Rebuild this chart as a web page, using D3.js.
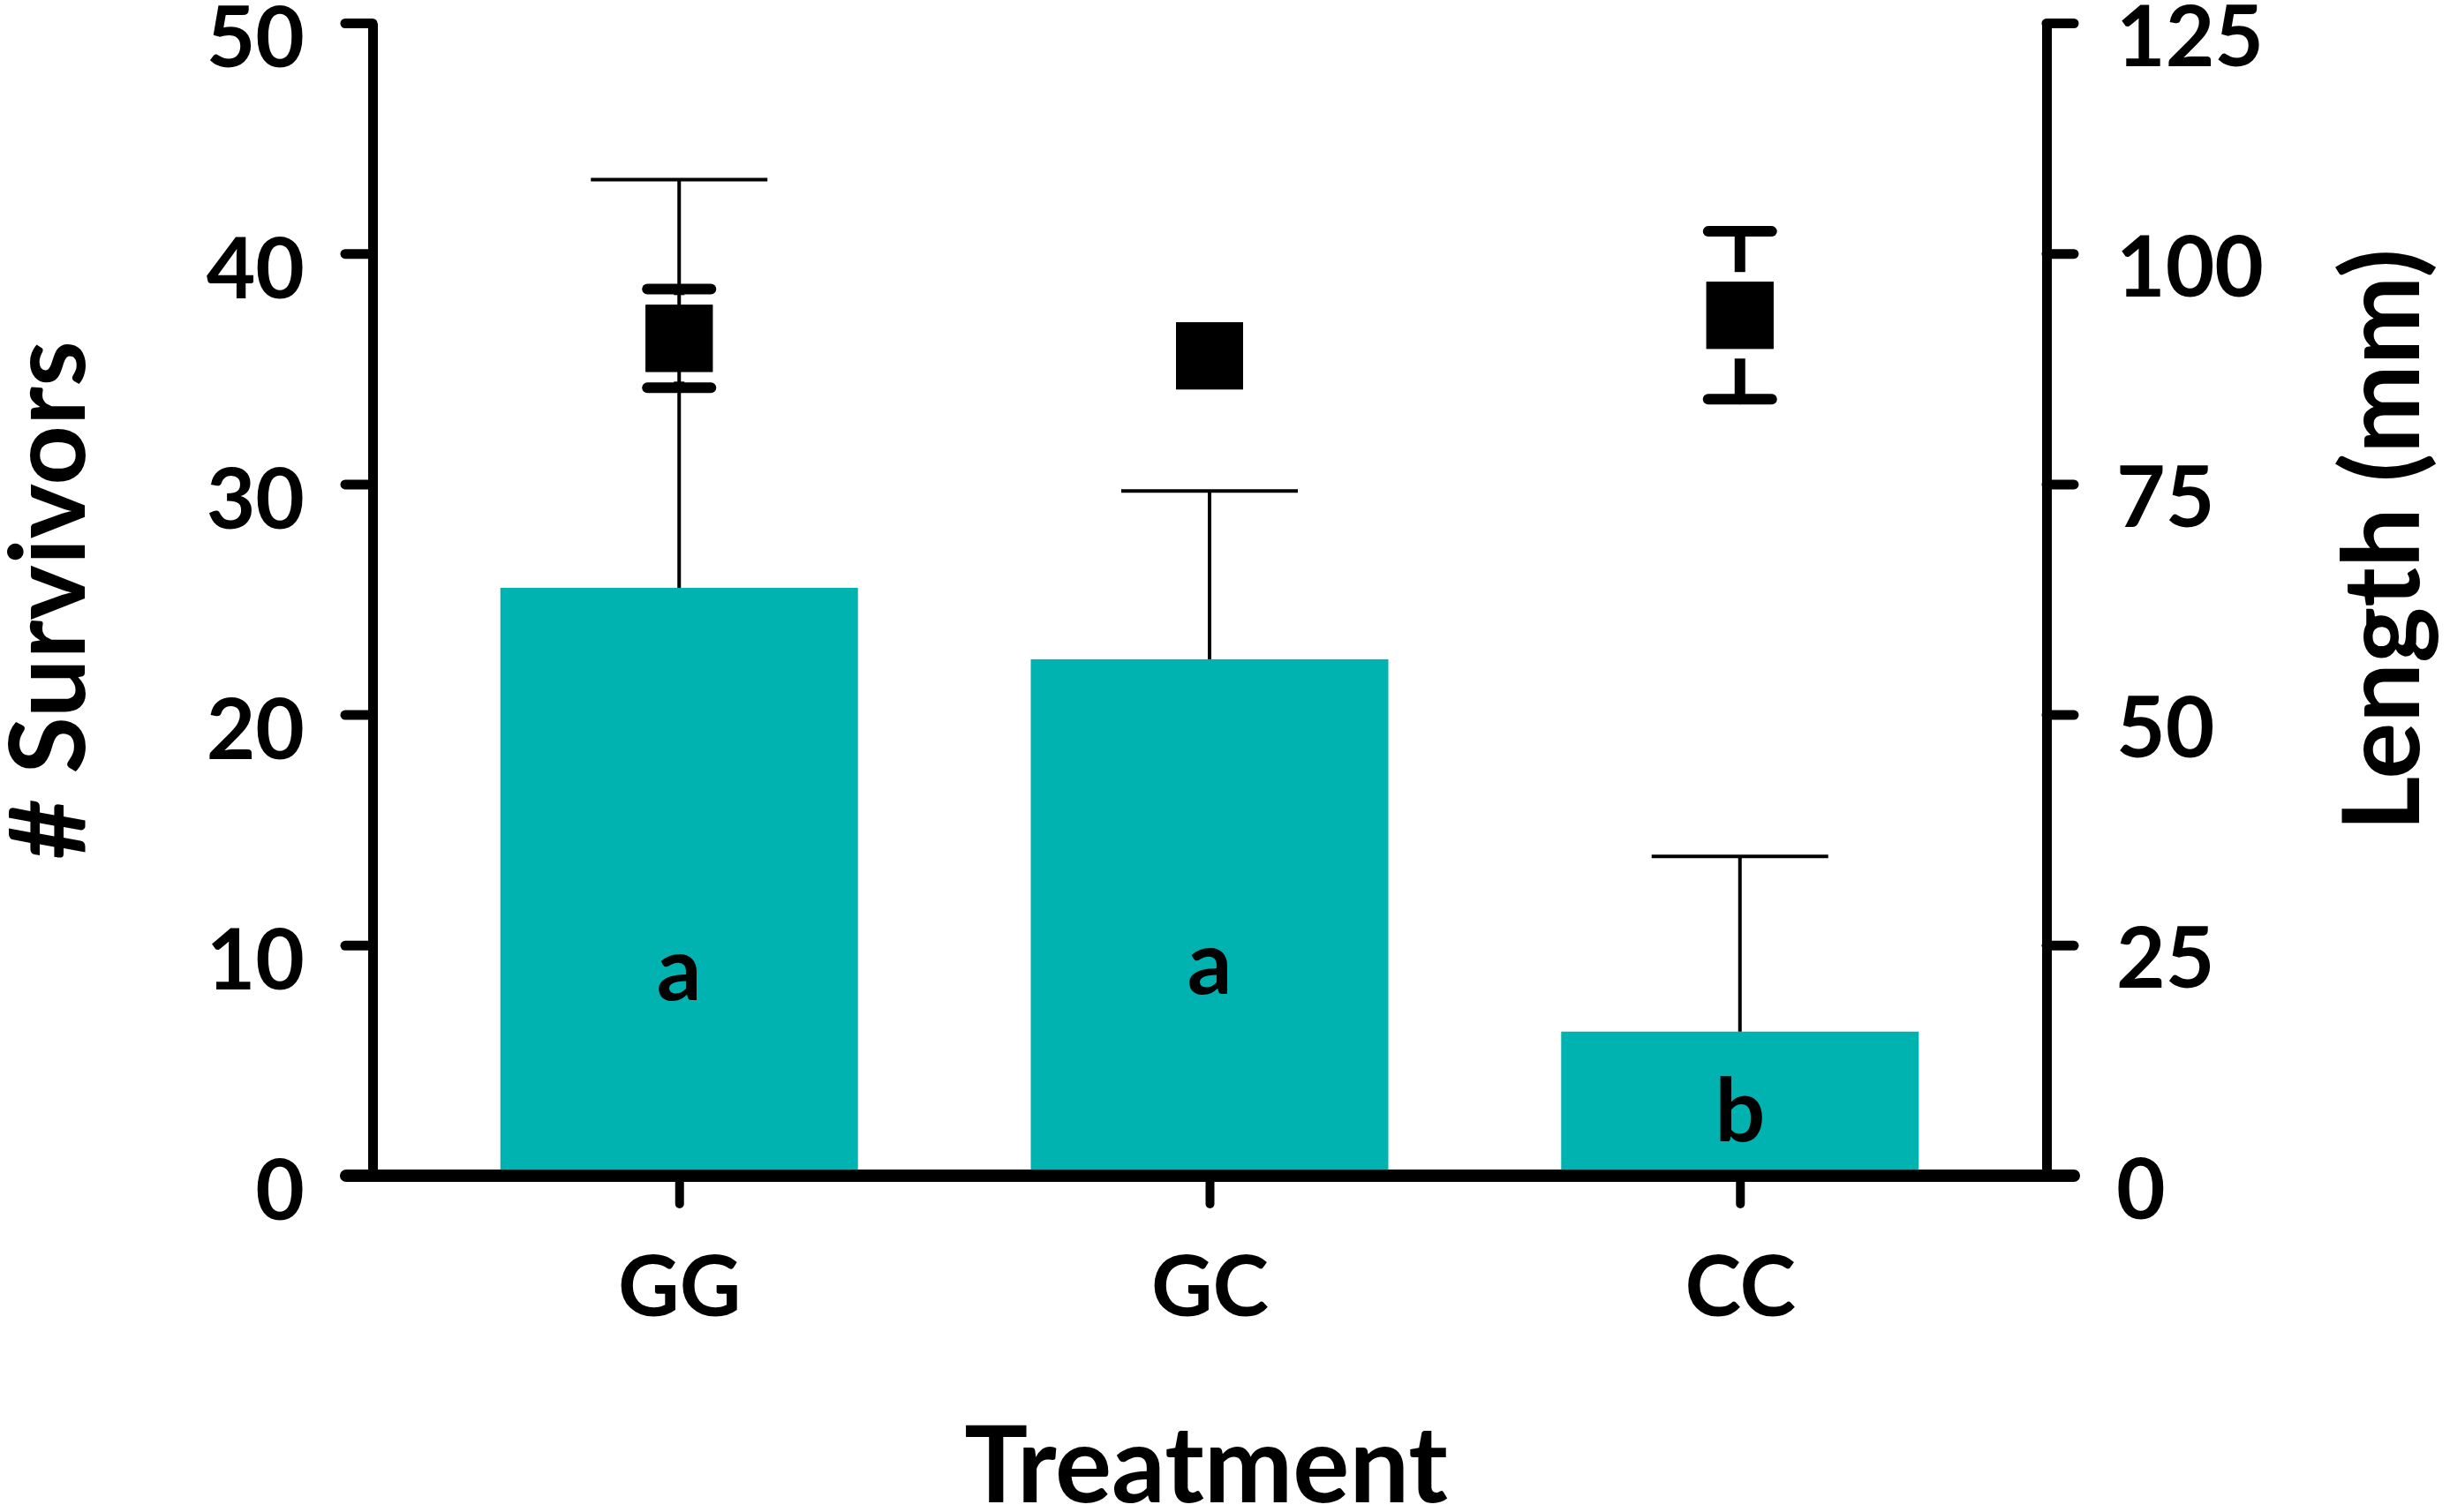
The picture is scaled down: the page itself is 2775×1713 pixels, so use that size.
<html>
<head>
<script src="https://d3js.org/d3.v7.min.js"></script>
<style>
  body { margin: 0; background: #fff; }
  svg text { font-family: Lato, "Open Sans", sans-serif; font-weight: bold; fill: #000; }
</style>
</head>
<body>
<svg id="chart" width="2775" height="1713"></svg>
<script>
// data
const treatments = ["GG", "GC", "CC"];
const survivors = [25.5, 22.4, 6.25];      // bars, left axis
const survivorsErr = [17.7, 7.3, 7.6];     // upper error only
const lengths = [90.8, 88.9, 93.3];        // squares, right axis (mm)
const lengthsErr = [5.35, 2.0, 9.1];
const groupLetters = ["a", "a", "b"];
const letterY = [7.6, 7.9, 1.5];           // baseline, in survivor units
const leftTicks = [0, 10, 20, 30, 40, 50];
const rightTicks = [0, 25, 50, 75, 100, 125];

const svg = d3.select("#chart");
const xLeft = 422, xRight = 2318, yTop = 26, yBottom = 1332;

const x = d3.scalePoint().domain(treatments).range([xLeft, xRight]).padding(0.578);
const yL = d3.scaleLinear().domain([0, 50]).range([yBottom, yTop]);
const yR = d3.scaleLinear().domain([0, 125]).range([yBottom, yTop]);
const barW = 405;

// bars
svg.selectAll("rect.bar").data(treatments)
  .join("rect")
  .attr("class", "bar")
  .attr("x", d => x(d) - barW / 2)
  .attr("width", barW)
  .attr("y", (d, i) => yL(survivors[i]))
  .attr("height", (d, i) => yBottom - yL(survivors[i]))
  .attr("fill", "#00b3b1");

// letters in bars
svg.selectAll("text.letter").data(treatments)
  .join("text")
  .attr("class", "letter")
  .attr("x", d => x(d))
  .attr("y", (d, i) => yL(letterY[i]))
  .attr("text-anchor", "middle")
  .attr("font-size", 100)
  .text((d, i) => groupLetters[i]);

// length error bars (thick)
const lenG = svg.append("g")
  .attr("stroke", "#000").attr("stroke-width", 12).attr("stroke-linecap", "round");
treatments.forEach((d, i) => {
  const cx = x(d), hi = yR(lengths[i] + lengthsErr[i]), lo = yR(lengths[i] - lengthsErr[i]);
  lenG.append("line").attr("x1", cx).attr("x2", cx).attr("y1", hi).attr("y2", lo);
  lenG.append("line").attr("x1", cx - 36).attr("x2", cx + 36).attr("y1", hi).attr("y2", hi);
  lenG.append("line").attr("x1", cx - 36).attr("x2", cx + 36).attr("y1", lo).attr("y2", lo);
});

// squares, with a white halo so the stems stop short
const sq = 76;
svg.selectAll("rect.sq").data(treatments)
  .join("rect")
  .attr("class", "sq")
  .attr("x", d => x(d) - sq / 2)
  .attr("y", (d, i) => yR(lengths[i]) - sq / 2)
  .attr("width", sq).attr("height", sq)
  .attr("fill", "#000")
  .attr("stroke", "#fff").attr("stroke-width", 22)
  .attr("paint-order", "stroke");
svg.selectAll("rect.sq2").data(treatments)
  .join("rect")
  .attr("class", "sq2")
  .attr("x", d => x(d) - sq / 2)
  .attr("y", (d, i) => yR(lengths[i]) - sq / 2)
  .attr("width", sq).attr("height", sq)
  .attr("fill", "#000");

// survivor error bars (thin, upper only)
const errG = svg.append("g").attr("stroke", "#000").attr("stroke-width", 4);
treatments.forEach((d, i) => {
  const cx = x(d), top = yL(survivors[i] + survivorsErr[i]);
  errG.append("line").attr("x1", cx).attr("x2", cx).attr("y1", yL(survivors[i])).attr("y2", top);
  errG.append("line").attr("x1", cx - 100).attr("x2", cx + 100).attr("y1", top).attr("y2", top);
});

// axes
function styleAxis(g, width) {
  g.selectAll("line").attr("stroke", "#000").attr("stroke-width", width).attr("stroke-linecap", "round");
  g.select(".domain").attr("stroke", "#000").attr("stroke-width", width);
  g.selectAll("text").attr("font-size", 96).attr("font-family", null).attr("fill", "#000");
}

const gL = svg.append("g").attr("transform", `translate(${xLeft},0)`)
  .call(d3.axisLeft(yL).tickValues(leftTicks).tickSize(31).tickSizeOuter(0).tickPadding(46));
styleAxis(gL, 11);
gL.selectAll("text").attr("dy", "0.52em");

const gR = svg.append("g").attr("transform", `translate(${xRight},0)`)
  .call(d3.axisRight(yR).tickValues(rightTicks).tickSize(31).tickSizeOuter(0).tickPadding(48));
styleAxis(gR, 11);
gR.selectAll("text").attr("dy", "0.5em");

const gB = svg.append("g").attr("transform", `translate(0,${yBottom})`)
  .call(d3.axisBottom(x).tickSize(32).tickSizeOuter(0));
gB.select(".domain").remove();
styleAxis(gB, 10);
gB.selectAll("text").attr("y", 159).attr("dy", 0).attr("font-size", 96);

svg.append("line")
  .attr("x1", 392).attr("x2", 2349).attr("y1", yBottom).attr("y2", yBottom)
  .attr("stroke", "#000").attr("stroke-width", 14).attr("stroke-linecap", "round");

// axis titles
svg.append("text")
  .attr("transform", "translate(96,680) rotate(-90)")
  .attr("text-anchor", "middle").attr("font-size", 118)
  .text("# Survivors");
svg.append("text")
  .attr("transform", "translate(2740,612) rotate(-90)")
  .attr("text-anchor", "middle").attr("font-size", 120)
  .text("Length (mm)");
svg.append("text")
  .attr("x", 1366).attr("y", 1702)
  .attr("text-anchor", "middle").attr("font-size", 120)
  .text("Treatment");
</script>
</body>
</html>
